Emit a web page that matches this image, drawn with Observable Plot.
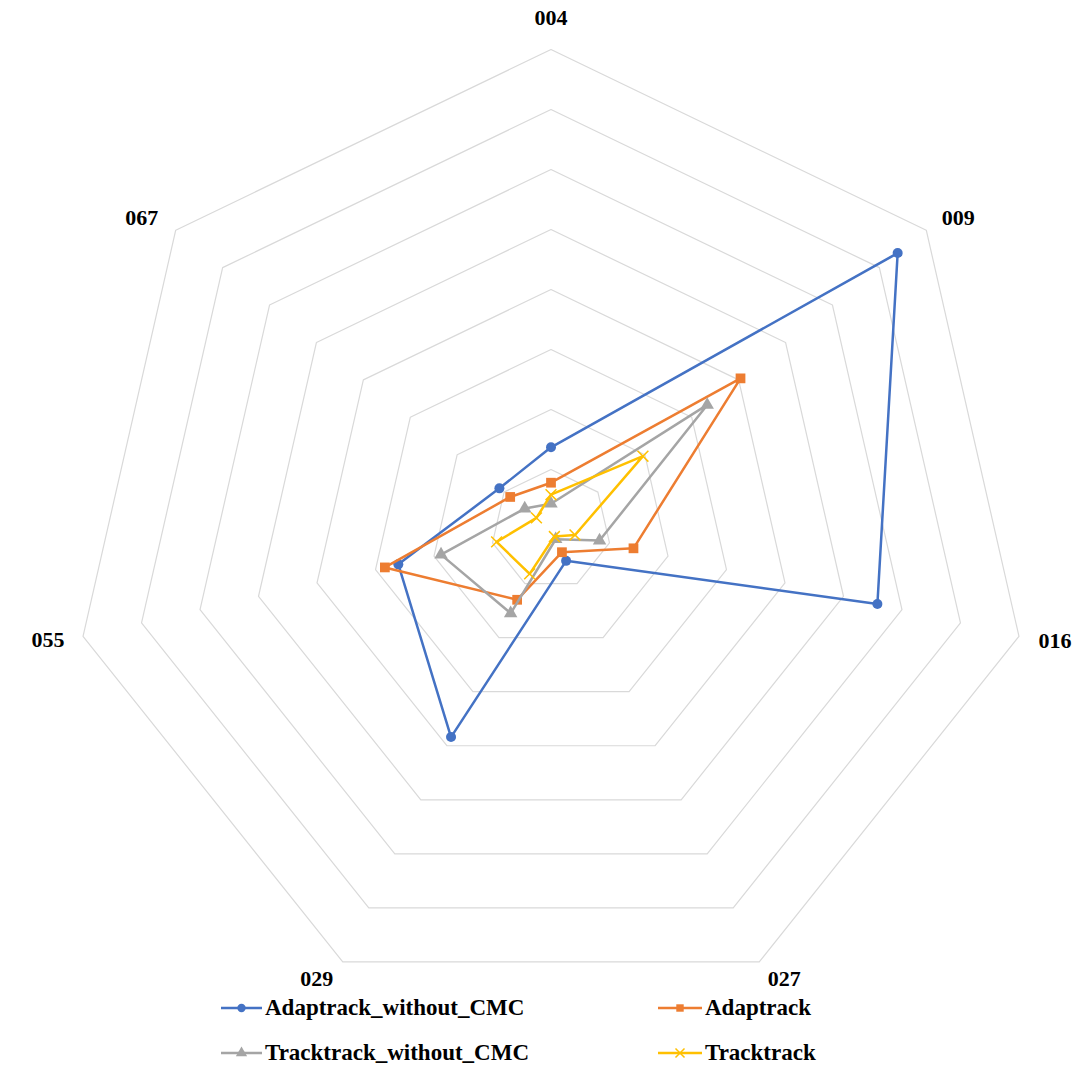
<!DOCTYPE html>
<html>
<head>
<meta charset="utf-8">
<script src="https://cdn.jsdelivr.net/npm/d3@7"></script>
<script src="https://cdn.jsdelivr.net/npm/@observablehq/plot@0.6"></script>
<style>
  html, body { margin: 0; padding: 0; background: #fff; }
  #wrap { position: relative; width: 1080px; height: 1074px; font-family: "Liberation Serif", "Times New Roman", serif; }
  #chart { height: 992px; }
  #legend { position: absolute; left: 0; top: 992px; width: 1080px; height: 82px; }
  .item { position: absolute; display: flex; align-items: center; height: 30px; font-weight: bold; font-size: 23px; line-height: 30px; color: #000; white-space: nowrap; }
  .item svg { margin-right: 3px; display: block; }
</style>
</head>
<body>
<div id="wrap">
  <div id="chart"></div>
  <div id="legend"></div>
</div>
<script>
// ---- data ----
const categories = ["004", "009", "016", "027", "029", "055", "067"];
const adaptrackWithoutCMC = [1.37, 7.39, 5.58, 0.58, 3.84, 2.61, 1.10];
const adaptrack = [0.78, 4.04, 1.41, 0.42, 1.30, 2.84, 0.87];
const tracktrackWithoutCMC = [0.43, 3.33, 0.83, 0.18, 1.55, 1.88, 0.56];
const tracktrack = [0.58, 1.96, 0.41, 0.13, 0.82, 0.93, 0.31];
const ringLevels = [1, 2, 3, 4, 5, 6, 7, 8];
const seriesNames = ["Adaptrack_without_CMC", "Adaptrack", "Tracktrack_without_CMC", "Tracktrack"];
const seriesValues = [adaptrackWithoutCMC, adaptrack, tracktrackWithoutCMC, tracktrack];
const seriesColors = ["#4472C4", "#ED7D31", "#A5A5A5", "#FFC000"];
const seriesSymbols = ["circle", "square", "triangle", "times"];

// ---- layout (pixels) ----
const W = 1080, H = 992, unit = 60, cx = 550.5, cy = 529;
// label offsets from the outer-ring vertex, in pixels
const labelOffsets = [[0, -32], [32, -12], [36, 5], [25, 17], [-26, 17], [-35, 4], [-34, -12]];

const n = categories.length;
const ang = i => i * 2 * Math.PI / n;
const px = (v, i) => v * Math.sin(ang(i));
const py = (v, i) => v * Math.cos(ang(i));
const outer = ringLevels[ringLevels.length - 1];

const ringPts = ringLevels.flatMap(r => categories.map((c, i) => ({ring: r, x: px(r, i), y: py(r, i)})));
const seriesPts = seriesNames.map((s, k) => seriesValues[k].map((v, i) => ({series: s, cat: categories[i], x: px(v, i), y: py(v, i)})));
const labelPts = categories.map((c, i) => ({
  label: c,
  x: px(outer, i) + labelOffsets[i][0] / unit,
  y: py(outer, i) - labelOffsets[i][1] / unit
}));

const marks = [
  Plot.line(ringPts, {x: "x", y: "y", z: "ring", curve: "linear-closed", stroke: "#d9d9d9", strokeWidth: 1.2})
];
seriesPts.forEach((pts, k) => {
  marks.push(Plot.line(pts, {x: "x", y: "y", curve: "linear-closed", stroke: seriesColors[k], strokeWidth: 2.5, strokeLinejoin: "round"}));
  if (seriesSymbols[k] === "times") {
    marks.push(Plot.dot(pts, {x: "x", y: "y", symbol: "times", stroke: seriesColors[k], strokeWidth: 1.5, r: 5}));
  } else {
    marks.push(Plot.dot(pts, {x: "x", y: "y", symbol: seriesSymbols[k], fill: seriesColors[k], stroke: "none", r: seriesSymbols[k] === "square" ? 5.5 : 5}));
  }
});
marks.push(Plot.text(labelPts, {x: "x", y: "y", text: "label", fontSize: 22, fontWeight: "bold", fill: "#000"}));

const chart = Plot.plot({
  width: W,
  height: H,
  margin: 0,
  style: {fontFamily: "'Liberation Serif', 'Times New Roman', serif", background: "#fff"},
  x: {domain: [-cx / unit, (W - cx) / unit], range: [0, W], axis: null},
  y: {domain: [-(H - cy) / unit, cy / unit], range: [H, 0], axis: null},
  marks
});
document.getElementById("chart").appendChild(chart);

// ---- legend ----
const legendPos = [[221, 16], [658, 16], [221, 61], [658, 61]];
const legend = document.getElementById("legend");
seriesNames.forEach((s, k) => {
  const div = document.createElement("div");
  div.className = "item";
  div.style.left = legendPos[k][0] + "px";
  div.style.top = (legendPos[k][1] - 15) + "px";
  const sw = k % 2 === 0 ? 41 : 44;
  const svg = d3.create("svg").attr("width", sw).attr("height", 14);
  svg.append("line").attr("x1", 0).attr("x2", sw).attr("y1", 7).attr("y2", 7).attr("stroke", seriesColors[k]).attr("stroke-width", 2.5);
  const sym = {circle: d3.symbolCircle, square: d3.symbolSquare, triangle: d3.symbolTriangle, times: d3.symbolTimes}[seriesSymbols[k]];
  const path = svg.append("path").attr("transform", `translate(${sw / 2},7)`).attr("d", d3.symbol(sym, 55)());
  if (seriesSymbols[k] === "times") path.attr("fill", "none").attr("stroke", seriesColors[k]).attr("stroke-width", 1.5);
  else path.attr("fill", seriesColors[k]);
  div.appendChild(svg.node());
  const span = document.createElement("span");
  span.textContent = s;
  div.appendChild(span);
  legend.appendChild(div);
});
</script>
</body>
</html>
